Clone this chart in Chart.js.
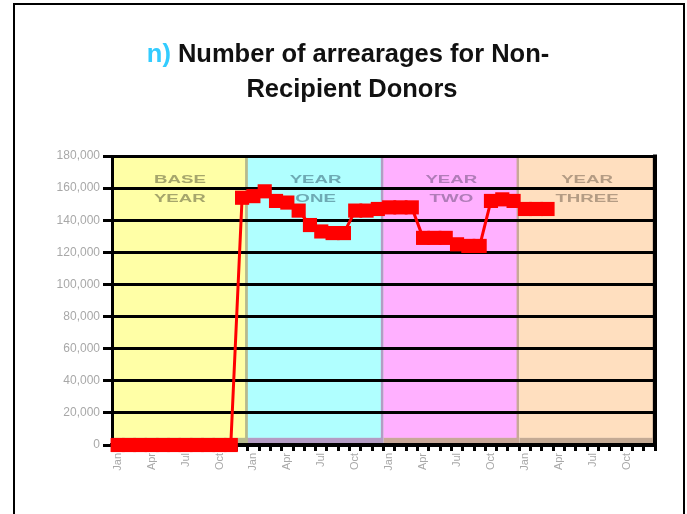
<!DOCTYPE html>
<html>
<head>
<meta charset="utf-8">
<script src="https://cdn.jsdelivr.net/npm/chart.js@4"></script>
<style>
  html, body { margin: 0; padding: 0; background: #fff; overflow: hidden; }
  #wrap { position: relative; width: 687px; height: 514px; }
  #frame {
    position: absolute; left: 13px; top: 3px; width: 668px; height: 600px;
    border: 2px solid #000; border-bottom: none; pointer-events: none;
  }
</style>
</head>
<body>
<div id="wrap">
  <canvas id="arrearsChart" width="687" height="514"></canvas>
  <div id="frame"></div>
</div>
<script>
// 資料
const months = ["Jan", "Feb", "Mar", "Apr", "May", "Jun", "Jul", "Aug", "Sep", "Oct", "Nov", "Dec"];
const periods = ["BASE YEAR", "YEAR ONE", "YEAR TWO", "YEAR THREE"];
const periodText = [["BASE", "YEAR"], ["YEAR", "ONE"], ["YEAR", "TWO"], ["YEAR", "THREE"]];
const categories = periods.flatMap(() => months);
const arrearages = [
  0, 0, 0, 0, 0, 0, 0, 0, 0, 0, 0,
  154000, 155000, 158000, 152000, 151000, 146000, 137000, 133000, 132000, 132000,
  146000, 146000, 147000, 148000, 148000, 148000,
  129000, 129000, 129000, 125000, 124000, 124000,
  152000, 153000, 152000, 147000, 147000, 147000,
];
const bandHeight = [180000, 180000, 180000, 180000];
const yTicks = { min: 0, max: 180000, step: 20000 };
const titlePrefix = "n)";
const titleLines = [" Number of arrearages for Non-", "Recipient Donors"];

const bandColors = ["#ffffa6", "#b0ffff", "#ffb0ff", "#ffdfbf"];
const bandEdge = ["#b6ba8e", "#b49cc4", "#c8a898", "#c4aa94"];
const bandTextColors = ["#a6a66c", "#6eaab4", "#b07cb8", "#b49c84"];

Chart.defaults.font.family = "'Liberation Sans', Arial, sans-serif";

// 背景帶 + 格線重畫 + 標題
const bandsPlugin = {
  id: "bands",
  afterDatasetDraw(chart, args) {
    if (args.index !== 1) return;
    const { ctx, chartArea } = chart;
    // 格線要蓋在色帶上面
    chart.scales.y.drawGrid(chartArea);
    chart.scales.x.drawGrid(chartArea);
    chart.scales.y.drawBorder();
    chart.scales.x.drawBorder();

    ctx.save();
    ctx.strokeStyle = "#000";
    ctx.lineWidth = 4;
    ctx.beginPath();
    ctx.moveTo(chartArea.right, chartArea.top - 1.5);
    ctx.lineTo(chartArea.right, chartArea.bottom + 2);
    ctx.stroke();

    const meta = chart.getDatasetMeta(1);
    ctx.font = "bold 11px 'Liberation Sans', Arial, sans-serif";
    ctx.textAlign = "center";
    ctx.textBaseline = "middle";
    meta.data.forEach((bar, i) => {
      ctx.fillStyle = bandTextColors[i];
      periodText[i].forEach((word, j) => {
        ctx.save();
        ctx.translate(bar.x, chartArea.top + 24 + j * 19);
        ctx.scale(1.7, 1);
        ctx.fillText(word, 0, 0);
        ctx.restore();
      });
    });
    ctx.restore();
  },
  afterDraw(chart) {
    const { ctx } = chart;
    const cx = 348;
    ctx.save();
    ctx.font = "bold 25.5px 'Liberation Sans', Arial, sans-serif";
    ctx.textBaseline = "alphabetic";
    ctx.textAlign = "left";
    const w1 = ctx.measureText(titlePrefix).width;
    const w2 = ctx.measureText(titleLines[0]).width;
    let x = cx - (w1 + w2) / 2;
    ctx.fillStyle = "#33ccff";
    ctx.fillText(titlePrefix, x, 62);
    ctx.fillStyle = "#111";
    ctx.fillText(titleLines[0], x + w1, 62);
    ctx.textAlign = "center";
    ctx.fillText(titleLines[1], cx + 4, 97);
    ctx.restore();
  },
};

new Chart(document.getElementById("arrearsChart"), {
  type: "line",
  data: {
    labels: categories,
    datasets: [
      {
        label: "Arrearages",
        data: arrearages,
        borderColor: "#ff0000",
        backgroundColor: "#ff0000",
        borderWidth: 3,
        pointStyle: "rect",
        pointRadius: 10,
        pointBorderWidth: 0,
        pointBackgroundColor: "#ff0000",
        tension: 0,
        clip: false,
      },
      {
        type: "bar",
        label: "Period",
        xAxisID: "xb",
        data: bandHeight,
        backgroundColor: bandColors,
        borderColor: bandEdge,
        borderWidth: { top: 0, left: 0, right: 3, bottom: 6 },
        borderSkipped: false,
        grouped: false,
        barPercentage: 1,
        categoryPercentage: 1,
      },
    ],
  },
  options: {
    responsive: false,
    animation: false,
    events: [],
    layout: { padding: { top: 156, right: 32, left: 0, bottom: 0 } },
    plugins: {
      legend: { display: false },
      title: { display: false },
      tooltip: { enabled: false },
    },
    scales: {
      x: {
        type: "category",
        offset: true,
        grid: {
          offset: true,
          drawOnChartArea: false,
          color: "#000",
          lineWidth: 3,
          tickLength: 6,
        },
        border: { color: "#000", width: 4 },
        ticks: {
          autoSkip: false,
          maxRotation: 90,
          minRotation: 90,
          padding: 2,
          color: "#a8a8a8",
          font: { size: 11 },
          callback: (v, i) => (i % 3 === 0 ? categories[i] : ""),
        },
        afterFit: (scale) => { scale.height = 69; },
      },
      xb: {
        type: "category",
        labels: periods,
        offset: true,
        display: false,
      },
      y: {
        min: yTicks.min,
        max: yTicks.max,
        grid: { color: "#000", lineWidth: 3, tickLength: 9 },
        border: { color: "#000", width: 3 },
        ticks: {
          stepSize: yTicks.step,
          padding: 3,
          color: "#a8a8a8",
          font: { size: 12 },
          callback: (v) => v.toLocaleString("en-US"),
        },
        afterFit: (scale) => { scale.width = 112; },
      },
    },
  },
  plugins: [bandsPlugin],
});
</script>
</body>
</html>
